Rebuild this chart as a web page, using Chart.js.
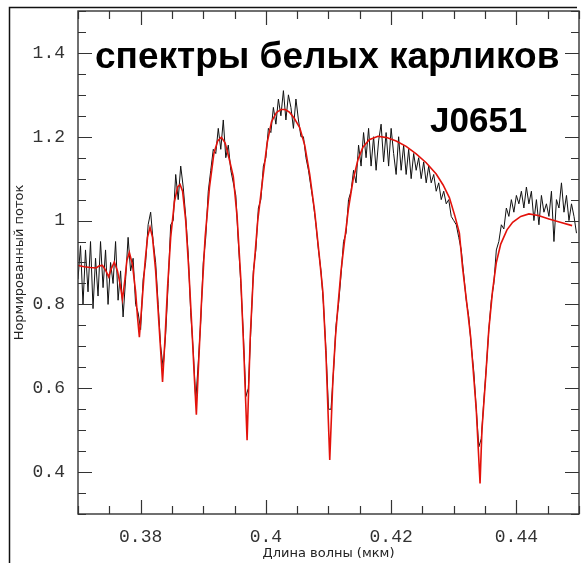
<!DOCTYPE html>
<html><head><meta charset="utf-8">
<script src="https://cdn.jsdelivr.net/npm/chart.js@4.4.1/dist/chart.umd.min.js"></script>
<style>html,body{margin:0;padding:0;background:#fff;overflow:hidden}canvas{display:block}</style>
</head><body>
<canvas id="c" width="581" height="563"></canvas>
<script>
const titleText = 'спектры белых карликов';
const objectName = 'J0651';
const xAxisTitle = 'Длина волны (мкм)';
const yAxisTitle = 'Нормированный поток';

const xTickValues = [0.38, 0.40, 0.42, 0.44];
const xTickLabels = ['0.38', '0.4', '0.42', '0.44'];
const yTickValues = [0.4, 0.6, 0.8, 1.0, 1.2, 1.4];
const yTickLabels = ['0.4', '0.6', '0.8', '1', '1.2', '1.4'];

// red model fit (wavelength, normalized flux)
const modelWavelength = [
0.3700,0.3710,0.3720,0.3729,0.3734,0.3739,0.3744,0.3749,0.3753,0.3758,
0.3763,0.3767,0.3771,0.3775,0.3778,0.3782,0.3787,0.3792,0.3795,0.3798,
0.3802,0.3807,0.3811,0.3815,0.3819,0.3824,0.3829,0.3832,0.3835,0.3839,
0.3843,0.3848,0.3854,0.3859,0.3863,0.3867,0.3872,0.3877,0.3882,0.3886,
0.3889,0.3892,0.3897,0.3903,0.3910,0.3917,0.3923,0.3929,0.3935,0.3941,
0.3948,0.3954,0.3960,0.3965,0.3970,0.3975,0.3980,0.3987,0.3995,0.4002,
0.4009,0.4017,0.4024,0.4031,0.4038,0.4045,0.4054,0.4062,0.4070,0.4078,
0.4085,0.4091,0.4096,0.4102,0.4107,0.4111,0.4115,0.4120,0.4125,0.4132,
0.4139,0.4147,0.4155,0.4165,0.4179,0.4193,0.4208,0.4224,0.4240,0.4256,
0.4272,0.4283,0.4293,0.4302,0.4309,0.4314,0.4321,0.4327,0.4332,0.4336,
0.4339,0.4342,0.4345,0.4351,0.4356,0.4362,0.4368,0.4375,0.4385,0.4394,
0.4407,0.4420,0.4435,0.4452,0.4470,0.4489
];
const modelFlux = [
0.893,0.890,0.888,0.887,0.892,0.893,0.882,0.866,0.885,0.901,
0.880,0.850,0.812,0.860,0.905,0.924,0.895,0.830,0.770,0.722,
0.800,0.900,0.960,0.984,0.960,0.880,0.760,0.690,0.615,0.720,
0.840,0.960,1.045,1.080,1.086,1.070,1.000,0.880,0.740,0.620,
0.537,0.640,0.800,0.960,1.080,1.160,1.190,1.199,1.185,1.150,
1.105,1.010,0.860,0.680,0.476,0.720,0.870,1.000,1.100,1.185,
1.236,1.258,1.265,1.265,1.258,1.245,1.222,1.180,1.110,1.020,
0.920,0.830,0.680,0.429,0.620,0.720,0.794,0.880,0.944,1.030,
1.095,1.145,1.175,1.193,1.201,1.198,1.190,1.177,1.159,1.138,
1.111,1.085,1.055,1.010,0.970,0.889,0.800,0.722,0.625,0.548,
0.460,0.373,0.500,0.627,0.740,0.833,0.900,0.944,0.978,0.996,
1.010,1.016,1.012,1.004,0.996,0.988
];

// observed spectrum, sampled every 0.0004 µm from 0.3700 µm
const spectrumStart = 0.3700;
const spectrumStep = 0.0004;
const spectrumFlux = [
0.86,0.94,0.80,0.93,0.83,0.95,0.79,0.91,0.82,0.95,
0.84,0.93,0.80,0.90,0.85,0.95,0.81,0.88,0.77,0.86,
0.96,0.88,0.91,0.80,0.78,0.74,0.86,0.90,0.99,1.02,
0.95,0.90,0.80,0.70,0.65,0.73,0.85,0.99,1.00,1.11,
1.05,1.13,1.08,1.01,0.92,0.78,0.69,0.57,0.66,0.76,
0.90,0.96,1.07,1.12,1.17,1.16,1.22,1.17,1.24,1.15,
1.18,1.12,1.09,1.06,0.95,0.85,0.73,0.58,0.60,0.74,
0.88,0.93,1.03,1.05,1.13,1.15,1.22,1.21,1.27,1.23,
1.29,1.25,1.31,1.24,1.30,1.27,1.22,1.29,1.24,1.20,
1.20,1.15,1.12,1.08,1.04,0.99,0.93,0.88,0.80,0.69,
0.55,0.55,0.64,0.75,0.80,0.87,0.95,0.97,1.05,1.07,
1.12,1.09,1.18,1.13,1.21,1.15,1.22,1.13,1.20,1.12,
1.19,1.23,1.14,1.21,1.13,1.22,1.16,1.11,1.20,1.12,
1.18,1.11,1.17,1.10,1.16,1.12,1.15,1.10,1.14,1.09,
1.13,1.09,1.11,1.07,1.09,1.05,1.07,1.04,1.05,1.01,
1.00,0.99,0.96,0.93,0.87,0.81,0.77,0.70,0.64,0.55,
0.46,0.48,0.57,0.65,0.74,0.81,0.85,0.93,0.95,0.99,
0.98,1.03,1.01,1.05,1.02,1.06,1.04,1.07,1.03,1.08,
1.04,1.07,1.00,1.05,0.99,1.06,1.02,1.04,1.01,1.07,
0.95,1.05,1.03,1.09,1.02,1.06,1.00,1.04,1.01,0.97
];

const modelPoints = modelWavelength.map((w, i) => ({x: w, y: modelFlux[i]}));
const spectrumPoints = spectrumFlux.map((f, i) => ({x: +(spectrumStart + i * spectrumStep).toFixed(4), y: f}));

const framePlugin = {
  id: 'frame',
  beforeDraw(chart) {
    const ctx = chart.ctx;
    ctx.save();
    ctx.fillStyle = '#fff';
    ctx.fillRect(0, 0, chart.width, chart.height);
    ctx.strokeStyle = '#111';
    ctx.lineWidth = 1.5;
    ctx.beginPath();
    ctx.moveTo(9.5, chart.height);
    ctx.lineTo(9.5, 7.5);
    ctx.lineTo(577, 7.5);
    ctx.stroke();
    ctx.restore();
  },
  afterDraw(chart) {
    const {ctx, chartArea: a, scales: {x, y}} = chart;
    ctx.save();
    ctx.strokeStyle = '#333';
    ctx.lineWidth = 1.4;
    ctx.strokeRect(a.left, a.top, a.right - a.left, a.bottom - a.top);
    ctx.lineWidth = 1.2;
    ctx.beginPath();
    for (let k = 0; k <= 16; k++) {
      const v = x.min + k * 0.005;
      const r = v / 0.02;
      const major = Math.abs(r - Math.round(r)) < 1e-6;
      const len = major ? 14 : 8;
      const px = Math.round(x.getPixelForValue(v)) + 0.5;
      ctx.moveTo(px, a.bottom); ctx.lineTo(px, a.bottom - len);
      ctx.moveTo(px, a.top); ctx.lineTo(px, a.top + len);
    }
    for (let k = 0; k <= 24; k++) {
      const v = y.min + k * 0.05;
      const r = v / 0.2;
      const major = Math.abs(r - Math.round(r)) < 1e-6;
      const len = major ? 14 : 8;
      const py = Math.round(y.getPixelForValue(v)) + 0.5;
      ctx.moveTo(a.left, py); ctx.lineTo(a.left + len, py);
      ctx.moveTo(a.right, py); ctx.lineTo(a.right - len, py);
    }
    ctx.stroke();

    ctx.fillStyle = '#000';
    ctx.textBaseline = 'alphabetic';
    ctx.textAlign = 'left';
    ctx.font = 'bold 37px "Liberation Sans", Arial, sans-serif';
    ctx.fillText(titleText, 95, 68);
    ctx.font = 'bold 35px "Liberation Sans", Arial, sans-serif';
    ctx.fillText(objectName, 430, 132);
    ctx.restore();
  }
};

new Chart(document.getElementById('c'), {
  type: 'scatter',
  data: {
    datasets: [
      {label: 'model', data: modelPoints, showLine: true, borderColor: '#e3120b', borderWidth: 1.6, pointRadius: 0, tension: 0, fill: false},
      {label: 'spectrum', data: spectrumPoints, showLine: true, borderColor: '#111', borderWidth: 1, pointRadius: 0, tension: 0, fill: false}
    ]
  },
  options: {
    responsive: false,
    devicePixelRatio: 1,
    animation: false,
    layout: {padding: {top: 11, right: 2, left: 0, bottom: 0}},
    plugins: {legend: {display: false}, tooltip: {enabled: false}},
    scales: {
      x: {
        type: 'linear', min: 0.37, max: 0.45,
        grid: {display: false, drawTicks: false},
        border: {display: false},
        afterBuildTicks(s) { s.ticks = xTickValues.map(v => ({value: v})); },
        afterFit(s) { s.height = 49; s.paddingLeft = 0; s.paddingRight = 0; },
        ticks: {
          padding: 12, color: '#333', maxRotation: 0, autoSkip: false,
          font: {family: '"Liberation Mono", monospace', size: 18},
          callback(v) { const i = xTickValues.findIndex(t => Math.abs(t - v) < 1e-9); return i >= 0 ? xTickLabels[i] : ''; }
        },
        title: {display: true, text: xAxisTitle, color: '#222', font: {family: '"DejaVu Sans", sans-serif', size: 13}, padding: {top: 0, bottom: 2}}
      },
      y: {
        type: 'linear', min: 0.3, max: 1.5,
        grid: {display: false, drawTicks: false},
        border: {display: false},
        afterBuildTicks(s) { s.ticks = yTickValues.map(v => ({value: v})); },
        afterFit(s) { s.width = 78; s.paddingTop = 0; s.paddingBottom = 0; },
        ticks: {
          padding: 13, color: '#333',
          font: {family: '"Liberation Mono", monospace', size: 18},
          callback(v) { const i = yTickValues.findIndex(t => Math.abs(t - v) < 1e-9); return i >= 0 ? yTickLabels[i] : ''; }
        },
        title: {display: true, text: yAxisTitle, color: '#222', font: {family: '"DejaVu Sans", sans-serif', size: 13}, padding: {top: 12, bottom: 0}}
      }
    }
  },
  plugins: [framePlugin]
});
</script>
</body></html>
